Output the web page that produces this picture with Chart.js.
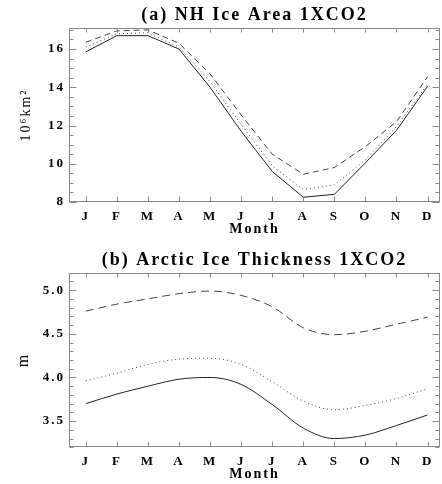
<!DOCTYPE html>
<html>
<head>
<meta charset="utf-8">
<script src="https://cdn.jsdelivr.net/npm/chart.js@4.4.1/dist/chart.umd.min.js"></script>
<style>
    body { margin: 0; background: #fff; }
    canvas { display: block; }
</style>
</head>
<body>
<canvas id="graficoArea" width="442" height="240"></canvas>
<canvas id="graficoSpessore" width="442" height="244"></canvas>
<script>
var mesi = ['J', 'F', 'M', 'A', 'M', 'J', 'J', 'A', 'S', 'O', 'N', 'D'];

// (a) NH ice area, 10^6 km^2
var areaContinua = [15.85, 16.7, 16.7, 16.0, 14.0, 11.7, 9.6, 8.25, 8.4, 10.05, 11.75, 14.05];
var areaPuntini = [16.1, 16.8, 16.85, 16.1, 14.3, 12.05, 9.9, 8.65, 8.9, 10.2, 11.95, 14.15];
var areaTratteggio = [16.35, 16.95, 17.0, 16.3, 14.7, 12.55, 10.5, 9.45, 9.8, 10.9, 12.2, 14.55];
var areaTicks = [8, 8.5, 9, 9.5, 10, 10.5, 11, 11.5, 12, 12.5, 13, 13.5, 14, 14.5, 15, 15.5, 16, 16.5, 17];
var areaEtichette = ['8', '10', '12', '14', '16'];

// (b) Arctic ice thickness, m
var spessoreContinua = [3.70, 3.81, 3.90, 3.98, 4.00, 3.92, 3.69, 3.42, 3.30, 3.34, 3.45, 3.57];
var spessorePuntini = [3.96, 4.05, 4.15, 4.21, 4.22, 4.15, 3.95, 3.73, 3.63, 3.68, 3.76, 3.87];
var spessoreTratteggio = [4.76, 4.84, 4.90, 4.96, 4.99, 4.94, 4.81, 4.57, 4.49, 4.53, 4.61, 4.69];
var spessoreTicks = [3.2, 3.3, 3.4, 3.5, 3.6, 3.7, 3.8, 3.9, 4.0, 4.1, 4.2, 4.3, 4.4, 4.5, 4.6, 4.7, 4.8, 4.9, 5.0, 5.1, 5.2];
var spessoreEtichette = ['3.5', '4.0', '4.5', '5.0'];

var serif = "'Liberation Serif', 'Times New Roman', serif";

// the scanned figure is a bit wide: spread the letters
var spaziatura = {
    id: 'spaziatura',
    beforeLayout: function (chart) { chart.ctx.letterSpacing = '2px'; },
    beforeDraw: function (chart) { chart.ctx.letterSpacing = '2px'; }
};

// box round the plot with inward ticks, IDL style
var cornice = {
    id: 'cornice',
    afterDatasetsDraw: function (chart) {
        var ctx = chart.ctx;
        var a = chart.chartArea;
        var sx = chart.scales.x;
        var sy = chart.scales.y;
        var l = Math.round(a.left) + 0.5;
        var r = Math.round(a.right) - 0.5;
        var t = Math.round(a.top) + 0.5;
        var b = Math.round(a.bottom) - 0.5;
        ctx.save();
        ctx.strokeStyle = '#888';
        ctx.lineWidth = 1;
        ctx.strokeRect(l, t, r - l, b - t);
        ctx.beginPath();
        sy.ticks.forEach(function (tk) {
            var y = Math.round(sy.getPixelForValue(tk.value)) + 0.5;
            var len = tk.label !== '' ? 7 : 4;
            ctx.moveTo(l, y); ctx.lineTo(l + len, y);
            ctx.moveTo(r, y); ctx.lineTo(r - len, y);
        });
        sx.ticks.forEach(function (tk) {
            var x = Math.round(sx.getPixelForValue(tk.value)) + 0.5;
            ctx.moveTo(x, b); ctx.lineTo(x, b - 5);
            ctx.moveTo(x, t); ctx.lineTo(x, t + 4);
        });
        ctx.stroke();
        ctx.restore();
    }
};

function punti(valori) {
    return valori.map(function (v, i) { return { x: i + 1, y: v }; });
}

function newLineChart(id, titolo, titoloY, fontY, yMin, yMax, yTicks, yEtichette, continua, puntini, tratteggio, curva, lay) {
    var ctx = document.getElementById(id);
    var stile = { borderWidth: 1, pointRadius: 0, fill: false, tension: 0 };
    if (curva) {
        stile.cubicInterpolationMode = 'monotone';
    }
    function serie(dati, colore, dash) {
        return Object.assign({ data: punti(dati), borderColor: colore, borderDash: dash }, stile);
    }
    return new Chart(ctx, {
        type: 'line',
        data: {
            datasets: [
                serie(continua, '#222', []),
                serie(puntini, '#444', [1, 3]),
                serie(tratteggio, '#444', curva ? [8, 5] : [6, 4])
            ]
        },
        options: {
            responsive: false,
            animation: false,
            layout: { padding: { left: 0, right: 2, top: 0, bottom: 0 } },
            plugins: {
                legend: { display: false },
                tooltip: { enabled: false },
                title: {
                    display: true,
                    text: titolo,
                    fullSize: false,
                    color: '#000',
                    font: { family: serif, size: 18, weight: 'bold' },
                    padding: lay.titlePad
                }
            },
            scales: {
                x: {
                    type: 'linear',
                    min: 0.46,
                    max: 12.4,
                    grid: { display: false, drawTicks: false },
                    border: { display: false },
                    afterBuildTicks: function (scale) {
                        scale.ticks = mesi.map(function (m, i) { return { value: i + 1 }; });
                    },
                    afterFit: function (scale) { scale.height = lay.xHeight; },
                    ticks: {
                        autoSkip: false,
                        maxRotation: 0,
                        padding: 7,
                        color: '#000',
                        font: { family: serif, size: 13, weight: 'bold' },
                        callback: function (value) { return mesi[value - 1]; }
                    },
                    title: {
                        display: true,
                        text: 'Month',
                        color: '#000',
                        font: { family: serif, size: 14, weight: 'bold' },
                        padding: { top: 0, bottom: lay.monthPad }
                    }
                },
                y: {
                    min: yMin,
                    max: yMax,
                    grid: { display: false, drawTicks: false },
                    border: { display: false },
                    afterBuildTicks: function (scale) {
                        scale.ticks = yTicks.map(function (v) { return { value: v }; });
                    },
                    afterFit: function (scale) { scale.width = 69; },
                    ticks: {
                        autoSkip: false,
                        padding: 4,
                        color: '#000',
                        font: { family: serif, size: 13, weight: 'bold' },
                        callback: function (value) {
                            for (var k = 0; k < yEtichette.length; k++) {
                                if (Math.abs(parseFloat(yEtichette[k]) - value) < 1e-6) {
                                    return yEtichette[k];
                                }
                            }
                            return '';
                        }
                    },
                    title: {
                        display: true,
                        text: titoloY,
                        color: '#000',
                        font: { family: serif, size: fontY },
                        padding: { top: lay.yTitlePad, bottom: 0 }
                    }
                }
            }
        },
        plugins: [spaziatura, cornice]
    });
}

newLineChart('graficoArea', '(a) NH Ice Area 1XCO2', '10\u2076km\u00b2', 14, 8, 17.1,
    areaTicks, areaEtichette, areaContinua, areaPuntini, areaTratteggio, false,
    { titlePad: { top: 5, bottom: 1.4 }, xHeight: 38, monthPad: 2, yTitlePad: 18 });

newLineChart('graficoSpessore', '(b) Arctic Ice Thickness 1XCO2', 'm', 16, 3.2, 5.2,
    spessoreTicks, spessoreEtichette, spessoreContinua, spessorePuntini, spessoreTratteggio, true,
    { titlePad: { top: 10, bottom: 1.1 }, xHeight: 36.7, monthPad: 1, yTitlePad: 14 });
</script>
</body>
</html>
